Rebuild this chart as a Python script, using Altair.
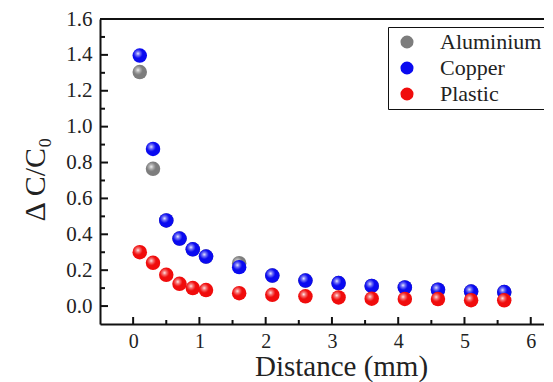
import altair as alt
import pandas as pd

# ---- data ----
distance = [0.1, 0.3, 0.5, 0.7, 0.9, 1.1, 1.6, 2.1, 2.6, 3.1, 3.6, 4.1, 4.6, 5.1, 5.6]
aluminium = [1.304, 0.765, 0.477, 0.376, 0.316, 0.276, 0.239, 0.170, 0.142, 0.128, 0.112, 0.104, 0.091, 0.081, 0.078]
copper = [1.396, 0.876, 0.477, 0.376, 0.316, 0.276, 0.217, 0.170, 0.142, 0.128, 0.112, 0.104, 0.091, 0.081, 0.078]
plastic = [0.300, 0.241, 0.174, 0.124, 0.100, 0.089, 0.072, 0.063, 0.054, 0.048, 0.041, 0.040, 0.039, 0.033, 0.032]

series_names = ["Aluminium", "Copper", "Plastic"]
series_colors = ["#7d7d7d", "#0a0af0", "#f00c0c"]

x_major = [0, 1, 2, 3, 4, 5, 6]
x_minor = [0.5, 1.5, 2.5, 3.5, 4.5, 5.5]
y_major = [0.0, 0.2, 0.4, 0.6, 0.8, 1.0, 1.2, 1.4, 1.6]
y_minor = [0.1, 0.3, 0.5, 0.7, 0.9, 1.1, 1.3, 1.5]

W, H = 444, 305
FONT = "Liberation Serif"

rows = []
for name, vals in zip(series_names, [aluminium, copper, plastic]):
    for d, v in zip(distance, vals):
        rows.append({"series": name, "x": d, "y": v})
df = pd.DataFrame(rows)

xscale = alt.Scale(domain=[-0.5, 6.2], nice=False, zero=False)
yscale = alt.Scale(domain=[-0.1, 1.6], nice=False, zero=False)
cscale = alt.Scale(domain=series_names, range=series_colors)

xaxis = alt.Axis(values=x_major, format="d", ticks=False, grid=False, labelPadding=7,
                 labelFontSize=20, labelFont=FONT, labelColor="#222", labelOverlap=False,
                 domainColor="#111", domainWidth=2,
                 title="Distance (mm)", titleFont=FONT, titleFontSize=29,
                 titleFontWeight="normal", titleColor="#222",
                 titleX=241, titleY=51, titleAlign="center", titleBaseline="alphabetic")
yaxis = alt.Axis(values=y_major, format=".1f", ticks=False, grid=False, labelPadding=8,
                 labelFontSize=21, labelFont=FONT, labelColor="#222", labelOverlap=False,
                 domainColor="#111", domainWidth=2,
                 title="Δ C/C₀", titleFont=FONT, titleFontSize=30,
                 titleFontWeight="normal", titleColor="#222",
                 titleX=-56, titleY=160, titleAlign="center", titleBaseline="alphabetic",
                 titleAngle=270)

legend = alt.Legend(title=None, orient="none", legendX=288, legendY=8,
                    strokeColor="#111", fillColor="white", padding=4,
                    labelFont=FONT, labelFontSize=22, labelColor="#222",
                    symbolType="circle", symbolSize=170, symbolStrokeWidth=0,
                    symbolOpacity=1, symbolOffset=4, labelOffset=22, rowPadding=4)

gradient = {
    "gradient": "radial",
    "x1": 0.38, "y1": 0.36, "r1": 0,
    "x2": 0.38, "y2": 0.36, "r2": 0.32,
    "stops": [
        {"offset": 0, "color": "rgba(255,255,255,0.95)"},
        {"offset": 0.4, "color": "rgba(255,255,255,0.45)"},
        {"offset": 1, "color": "rgba(255,255,255,0)"},
    ],
}

X = alt.X("x:Q", scale=xscale, axis=xaxis)
Y = alt.Y("y:Q", scale=yscale, axis=yaxis)

layers = []
for i, name in enumerate(series_names):
    base = alt.Chart(df).transform_filter(alt.datum.series == name)
    solid = base.mark_circle(size=210, opacity=1).encode(
        x=X, y=Y,
        color=alt.Color("series:N", scale=cscale, legend=legend),
    )
    shine = base.mark_circle(size=210, opacity=1, fill=gradient).encode(x=X, y=Y)
    layers += [solid, shine]

def tick_layer(vals, axis, length):
    t = alt.Chart(pd.DataFrame({"v": vals}))
    if axis == "x":
        return t.mark_rule(color="#111", strokeWidth=2).encode(
            x=alt.X("v:Q", scale=xscale, axis=xaxis), y=alt.value(H), y2=alt.value(H - length))
    return t.mark_rule(color="#111", strokeWidth=2).encode(
        y=alt.Y("v:Q", scale=yscale, axis=yaxis), x=alt.value(0), x2=alt.value(length))

ticks = [
    tick_layer(x_major, "x", 7),
    tick_layer(x_minor, "x", 4),
    tick_layer(y_major[:-1], "y", 8),
    tick_layer(y_minor, "y", 5),
]

top_line = alt.Chart(pd.DataFrame({"v": [0]})).mark_rule(color="#111", strokeWidth=2).encode(
    x=alt.value(0), x2=alt.value(W), y=alt.value(0))

chart = alt.layer(*layers, *ticks, top_line).properties(
    width=W, height=H,
    autosize=alt.AutoSizeParams(type="none"),
    padding={"left": 92, "top": 11, "right": 0, "bottom": 58},
).configure_view(stroke=None).configure(background="white")

chart.save("out.html", embed_options={"renderer": "svg", "actions": False})
